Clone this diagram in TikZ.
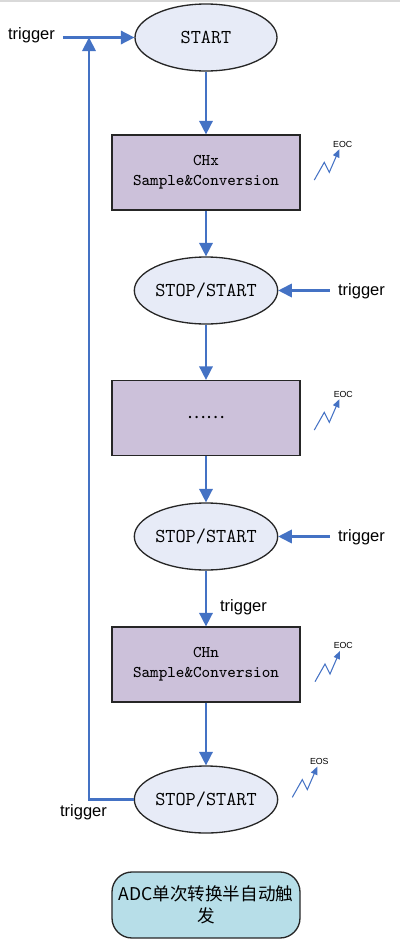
\documentclass[tikz,border=0pt]{standalone}
\usepackage{fontspec}
\newfontfamily\trigfont{Liberation Sans}
\newfontfamily\cjkfont{Noto Sans CJK SC}
\usetikzlibrary{shapes.geometric}
\definecolor{flowblue}{RGB}{68,114,196}
\definecolor{phasefill}{RGB}{231,235,247}
\definecolor{stagefill}{RGB}{204,193,218}
\definecolor{capfill}{RGB}{183,222,232}
\tikzset{every picture/.style={line width=0.75pt}}
\tikzset{
  phase/.style={draw=black!85, fill=phasefill, ellipse, minimum width=2.84cm, minimum height=1.34cm,
    font=\ttfamily\fontsize{11.2}{13}\selectfont},
  stage/.style={draw=black!85, fill=stagefill, rectangle, minimum width=3.76cm, minimum height=1.5cm,
    align=center, font=\ttfamily\fontsize{9.3}{11.4}\selectfont},
  caption/.style={draw=black!85, fill=capfill, rectangle, rounded corners=0.4cm, minimum width=3.76cm,
    minimum height=1.32cm, align=center, font=\cjkfont\fontsize{10}{12.5}\selectfont},
  lbl/.style={font=\trigfont\fontsize{9.4}{11}\selectfont},
  eoc/.style={font=\trigfont\fontsize{5}{5}\selectfont},
  flow/.style={draw=flowblue, line width=1.65pt, shorten >=0.2cm},
  zig/.style={draw=flowblue, line width=0.6pt, shorten >=0.1cm}
}

\begin{document}
\begin{tikzpicture}[scale=0.2]
\tikzstyle{every node}+=[inner sep=0pt]
\useasboundingbox (0,0) rectangle (40,-94.2);
\draw [gray!30, line width=1pt] (0,-0.1) -- (40,-0.1);
% chain of steps
\node [phase] (start) at (20.6,-3.75) {START};
\node [stage] (chx) at (20.6,-17.25) {CHx\\Sample\&Conversion};
\node [phase] (stop1) at (20.6,-29.05) {STOP/START};
\node [stage] (more) at (20.6,-41.8) {\cjkfont\fontsize{10}{12}\selectfont ……};
\node [phase] (stop2) at (20.6,-53.65) {STOP/START};
\node [stage] (chn) at (20.6,-66.45) {CHn\\Sample\&Conversion};
\node [phase] (stop3) at (20.6,-79.95) {STOP/START};
\node [caption] (title) at (20.6,-90.5) {ADC单次转换半自动触\\发};
% downward flow
\draw [flow] (start.south) -- (chx.north);
\fill [flowblue] (chx.north) -- ++(-0.7,1.35) -- ++(1.4,0) -- cycle;
\draw [flow] (chx.south) -- (stop1.north);
\fill [flowblue] (stop1.north) -- ++(-0.7,1.35) -- ++(1.4,0) -- cycle;
\draw [flow] (stop1.south) -- (more.north);
\fill [flowblue] (more.north) -- ++(-0.7,1.35) -- ++(1.4,0) -- cycle;
\draw [flow] (more.south) -- (stop2.north);
\fill [flowblue] (stop2.north) -- ++(-0.7,1.35) -- ++(1.4,0) -- cycle;
\draw [flow] (stop2.south) -- (chn.north);
\fill [flowblue] (chn.north) -- ++(-0.7,1.35) -- ++(1.4,0) -- cycle;
\node [lbl] (trig3) at (24.35,-60.7) {trigger};
\draw [flow] (chn.south) -- (stop3.north);
\fill [flowblue] (stop3.north) -- ++(-0.7,1.35) -- ++(1.4,0) -- cycle;
% first trigger and loop back
\node [lbl] (trig0) at (3.15,-3.5) {trigger};
\coordinate (trigin) at (6.3,-3.75);
\draw [flow] (trigin) -- (start.west);
\fill [flowblue] (start.west) -- ++(-1.35,0.7) -- ++(0,-1.4) -- cycle;
\coordinate (loopc) at (8.9,-79.95);
\draw [flow] (stop3.west) -- (loopc) -- (loopc |- trigin);
\fill [flowblue] (loopc |- trigin) -- ++(-0.7,-1.35) -- ++(1.4,0) -- cycle;
\node [lbl] (trig4) at (8.35,-81.25) {trigger};
% triggers from the right
\coordinate (trigr1) at (33,-29.05);
\draw [flow] (trigr1) -- (stop1.east);
\fill [flowblue] (stop1.east) -- ++(1.35,0.7) -- ++(0,-1.4) -- cycle;
\node [lbl] (trig1) at (36.15,-29.15) {trigger};
\coordinate (trigr2) at (33,-53.65);
\draw [flow] (trigr2) -- (stop2.east);
\fill [flowblue] (stop2.east) -- ++(1.35,0.7) -- ++(0,-1.4) -- cycle;
\node [lbl] (trig2) at (36.15,-53.75) {trigger};
% end of conversion marks
\draw [zig] (31.43,-18.0) -- ++(1.0,1.77) -- ++(0.5,-1.0) -- ++(1.0,2.3) coordinate (tip1);
\fill [flowblue] (tip1) -- ++(-0.64,-0.59) -- ++(0.64,-0.28) -- cycle;
\node [eoc] (eoc1) at (34.27,-14.4) {EOC};
\draw [zig] (31.43,-43.0) -- ++(1.0,1.77) -- ++(0.5,-1.0) -- ++(1.0,2.3) coordinate (tip2);
\fill [flowblue] (tip2) -- ++(-0.64,-0.59) -- ++(0.64,-0.28) -- cycle;
\node [eoc] (eoc2) at (34.33,-39.4) {EOC};
\draw [zig] (31.5,-68.17) -- ++(1.0,1.77) -- ++(0.5,-1.0) -- ++(1.0,2.3) coordinate (tip3);
\fill [flowblue] (tip3) -- ++(-0.64,-0.59) -- ++(0.64,-0.28) -- cycle;
\node [eoc] (eoc3) at (34.33,-64.57) {EOC};
\draw [zig] (29.23,-79.73) -- ++(1.0,1.77) -- ++(0.5,-1.0) -- ++(1.0,2.3) coordinate (tip4);
\fill [flowblue] (tip4) -- ++(-0.64,-0.59) -- ++(0.64,-0.28) -- cycle;
\node [eoc] (eos) at (31.93,-76.17) {EOS};
\end{tikzpicture}
\end{document}
